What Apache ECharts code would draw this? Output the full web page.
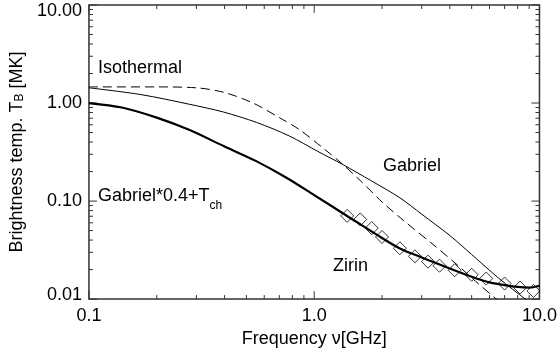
<!DOCTYPE html>
<html>
<head>
<meta charset="utf-8">
<script src="https://cdn.jsdelivr.net/npm/echarts@6/dist/echarts.min.js"></script>
<style>
  html, body { margin: 0; padding: 0; background: #fff; }
  #chart { width: 560px; height: 353px; }
</style>
</head>
<body>
<div id="chart"></div>
<script>
// isothermal model (dashed)
const isoFreq = [0.1, 0.2, 0.3, 0.4, 0.54, 0.7, 0.86, 1.09, 1.33, 1.6, 2.0, 2.5, 3.3, 4.4, 5.2, 6.4, 7.0];
const isoTemp = [1.46, 1.46, 1.43, 1.28, 0.99, 0.71, 0.535, 0.35, 0.240, 0.162, 0.098, 0.063, 0.0375, 0.0215, 0.0152, 0.0101, 0.0084];

// Gabriel model (thin)
const gabFreq = [0.1, 0.17, 0.28, 0.395, 0.554, 0.776, 1.04, 1.33, 1.8, 2.4, 3.0, 4.0, 5.0, 6.6, 8.7, 9.5];
const gabTemp = [1.43, 1.22, 0.97, 0.81, 0.635, 0.461, 0.32, 0.238, 0.160, 0.108, 0.0735, 0.0445, 0.0285, 0.0163, 0.0099, 0.0085];

// Gabriel*0.4 + Tch (thick)
const mixFreq = [0.1, 0.14, 0.2, 0.28, 0.4, 0.55, 0.75, 1.0, 1.4, 2.0, 2.4, 3.0, 4.0, 5.0, 6.0, 7.0, 8.0, 9.0, 10];
const mixTemp = [1.0, 0.90, 0.71, 0.53, 0.36, 0.257, 0.174, 0.115, 0.0705, 0.042, 0.0329, 0.0266, 0.0205, 0.0169, 0.0148, 0.0139, 0.0133, 0.0131, 0.0137];

// Zirin observations (diamonds)
const zirFreq = [1.4, 1.6, 1.8, 2.0, 2.4, 2.8, 3.2, 3.6, 4.2, 5.0, 5.8, 7.0, 8.2, 9.4];
const zirTemp = [0.0706, 0.065, 0.053, 0.043, 0.033, 0.0273, 0.0241, 0.0219, 0.0197, 0.0177, 0.0162, 0.0144, 0.0131, 0.0121];

// tick values
const xMajor = [0.1, 1, 10];
const xMinor = [0.2, 0.3, 0.4, 0.5, 0.6, 0.7, 0.8, 0.9, 2, 3, 4, 5, 6, 7, 8, 9];
const yMajor = [0.01, 0.1, 1, 10];
const yMinor = [0.02, 0.03, 0.04, 0.05, 0.06, 0.07, 0.08, 0.09, 0.2, 0.3, 0.4, 0.5, 0.6, 0.7, 0.8, 0.9, 2, 3, 4, 5, 6, 7, 8, 9];

const FONT = '"Liberation Sans", Arial, Helvetica, sans-serif';
const INK = '#000';
const AXIS = '#333';

function pairs(xs, ys) {
    return xs.map((x, i) => [x, ys[i]]);
}

// x ticks -> [value, 1, length]; y ticks -> [1, value, length]
const xTickData = xMajor.map(v => [v, 1, 8]).concat(xMinor.map(v => [v, 1, 4]));
const yTickData = yMajor.map(v => [1, v, 8]).concat(yMinor.map(v => [1, v, 4]));

function tickLine(x1, y1, x2, y2) {
    return { type: 'line', shape: { x1, y1, x2, y2 }, style: { stroke: AXIS, lineWidth: 1 } };
}

let myChart = echarts.init(document.getElementById('chart'), null, { renderer: 'canvas' });

let option = {
    animation: false,
    grid: {
        left: 87.5,
        right: 17.5,
        top: 5,
        bottom: 52.5,
        show: true,
        borderColor: AXIS,
        borderWidth: 1.5,
        backgroundColor: 'transparent'
    },
    xAxis: {
        type: 'log',
        logBase: 10,
        min: 0.1,
        max: 10,
        name: 'Frequency \u03bd[GHz]',
        nameLocation: 'middle',
        nameGap: 28,
        nameTextStyle: { color: INK, fontSize: 18, fontFamily: FONT },
        axisLine: { show: false },
        axisTick: { show: false },
        splitLine: { show: false },
        axisLabel: {
            color: INK,
            fontSize: 18,
            fontFamily: FONT,
            margin: 8,
            formatter: v => Number(v).toFixed(1)
        }
    },
    yAxis: {
        type: 'log',
        logBase: 10,
        min: 0.01,
        max: 10,
        name: 'Brightness temp. T{sub|B} [MK]',
        nameLocation: 'middle',
        nameGap: 62,
        nameRotate: 90,
        nameTextStyle: {
            color: INK, fontSize: 18, fontFamily: FONT,
            rich: {
                sub: { fontSize: 12, fontFamily: FONT, color: INK, verticalAlign: 'bottom' }
            }
        },
        axisLine: { show: false },
        axisTick: { show: false },
        splitLine: { show: false },
        axisLabel: {
            color: INK,
            fontSize: 18,
            fontFamily: FONT,
            margin: 7,
            formatter: function(v) {
                let s = Number(v).toFixed(2);
                if (v >= 9.99) return '{hi|' + s + '}';
                if (v <= 0.0101) return '{lo|' + s + '}';
                return s;
            },
            rich: {
                hi: { fontSize: 18, fontFamily: FONT, color: INK, padding: [12, 0, 0, 0] },
                lo: { fontSize: 18, fontFamily: FONT, color: INK, padding: [0, 0, 8, 0] }
            }
        }
    },
    series: [
        {
            name: 'Isothermal',
            type: 'line',
            data: pairs(isoFreq, isoTemp),
            smooth: 0.3,
            showSymbol: false,
            clip: true,
            lineStyle: { color: INK, width: 1, type: [9, 5] }
        },
        {
            name: 'Gabriel',
            type: 'line',
            data: pairs(gabFreq, gabTemp),
            smooth: 0.3,
            showSymbol: false,
            clip: true,
            lineStyle: { color: INK, width: 1 }
        },
        {
            name: 'Gabriel*0.4+Tch',
            type: 'line',
            data: pairs(mixFreq, mixTemp),
            smooth: 0.3,
            showSymbol: false,
            clip: true,
            lineStyle: { color: INK, width: 2.2 }
        },
        {
            name: 'Zirin',
            type: 'scatter',
            data: pairs(zirFreq, zirTemp),
            symbol: 'diamond',
            symbolSize: 13,
            itemStyle: { color: 'rgba(0,0,0,0)', borderColor: INK, borderWidth: 1 }
        },
        {
            type: 'custom',
            silent: true,
            data: xTickData,
            renderItem: function(params, api) {
                let cs = params.coordSys;
                let p = api.coord([api.value(0), api.value(1)]);
                let len = api.value(2);
                let bottom = cs.y + cs.height;
                return {
                    type: 'group',
                    children: [
                        tickLine(p[0], bottom, p[0], bottom - len),
                        tickLine(p[0], cs.y, p[0], cs.y + len)
                    ]
                };
            }
        },
        {
            type: 'custom',
            silent: true,
            data: yTickData,
            renderItem: function(params, api) {
                let cs = params.coordSys;
                let p = api.coord([api.value(0), api.value(1)]);
                let len = api.value(2);
                let right = cs.x + cs.width;
                return {
                    type: 'group',
                    children: [
                        tickLine(cs.x, p[1], cs.x + len, p[1]),
                        tickLine(right, p[1], right - len, p[1])
                    ]
                };
            }
        }
    ],
    graphic: [
        {
            type: 'text', x: 98, y: 68,
            style: { text: 'Isothermal', fill: INK, fontSize: 18, fontFamily: FONT, verticalAlign: 'middle' }
        },
        {
            type: 'text', x: 383, y: 166,
            style: { text: 'Gabriel', fill: INK, fontSize: 18, fontFamily: FONT, verticalAlign: 'middle' }
        },
        {
            type: 'text', x: 98, y: 196,
            style: {
                text: '{n|Gabriel*0.4+T}{s|ch}',
                verticalAlign: 'middle',
                rich: {
                    n: { fill: INK, fontSize: 18, fontFamily: FONT, verticalAlign: 'bottom' },
                    s: { fill: INK, fontSize: 12, fontFamily: FONT, verticalAlign: 'bottom', padding: [0, 0, -7, 0] }
                }
            }
        },
        {
            type: 'text', x: 333, y: 266,
            style: { text: 'Zirin', fill: INK, fontSize: 18, fontFamily: FONT, verticalAlign: 'middle' }
        }
    ]
};

myChart.setOption(option, true);
window.addEventListener('resize', () => {
    myChart.resize();
});
</script>
</body>
</html>
